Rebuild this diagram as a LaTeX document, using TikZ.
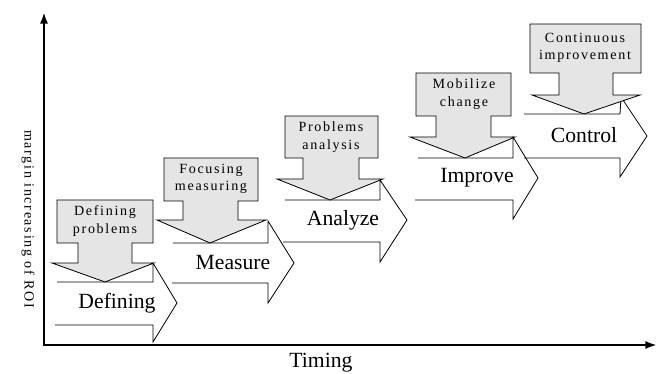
\documentclass[tikz,border=0pt]{standalone}
\usepackage{fontspec}
\setmainfont{Liberation Serif}
\newfontfamily\taskfont[LetterSpace=12]{Liberation Serif}
\usetikzlibrary{arrows.meta}

\begin{document}
\begin{tikzpicture}[x=0.03cm, y=-0.03cm,
	phase/.style={font=\fontsize{18.5}{20}\selectfont, inner sep=0},
	task/.style={font=\taskfont\fontsize{12}{15}\selectfont, align=center, inner sep=0},
	shaft/.style={line width=0.7pt, line join=miter},
	callout/.style={draw, fill=gray!20, line width=0.7pt},
	axis/.style={line width=2pt, line cap=rect, -{Latex[length=10pt,width=7pt]}}]
	\useasboundingbox (0,0) rectangle (660,374);
	% axes
	\coordinate (o) at (44,345);
	\coordinate (ytop) at (44,12);
	\coordinate (xend) at (657,345);
	\draw [axis] (o) -- (ytop);
	\draw [axis] (o) -- (xend);
	\node [task, rotate=-90] (roi) at (28,219) {margin increasing of ROI};
	\node [phase] (timing) at (321,363) {Timing};
	% step arrows
	\draw [shaft] (55,325) -- (153,325) -- (153,342) -- (177,303) -- (153,263) -- (153,282) -- (57,282);
	\draw [shaft] (172,283) -- (268,283) -- (268,303) -- (294,263) -- (268,221) -- (268,243) -- (173,243);
	\draw [shaft] (283,242) -- (380,242) -- (380,262) -- (407,220) -- (380,180) -- (380,200) -- (285,200);
	\draw [shaft] (415,200) -- (513,200) -- (513,219) -- (538,178) -- (513,137) -- (513,158) -- (418,158);
	\draw [shaft] (524,158) -- (620,158) -- (620,177) -- (647,136) -- (621,97) -- (620,114) -- (524,114);
	% callouts
	\draw [callout] (57,200) -- (153,200) -- (153,243) -- (132,243) -- (132,263) -- (154,263) -- (105,282) -- (52,263) -- (78,263) -- (78,243) -- (57,243) -- cycle;
	\draw [callout] (164,158) -- (258,158) -- (258,201) -- (238,201) -- (238,220) -- (266,220) -- (210,243) -- (157,220) -- (183,220) -- (183,201) -- (164,201) -- cycle;
	\draw [callout] (285,116) -- (378,116) -- (378,158) -- (359,158) -- (359,179) -- (383,179) -- (330,200) -- (277,179) -- (303,179) -- (303,158) -- (285,158) -- cycle;
	\draw [callout] (416,73) -- (511,73) -- (511,116) -- (491,116) -- (491,137) -- (515,137) -- (465,158) -- (410,137) -- (436,137) -- (436,116) -- (416,116) -- cycle;
	\draw [callout] (530,24) -- (641,24) -- (641,73) -- (613,73) -- (613,95) -- (640,95) -- (584,114) -- (532,95) -- (559,95) -- (559,73) -- (530,73) -- cycle;
	% labels
	\node [phase] (defining) at (117,303) {Defining};
	\node [phase] (measure) at (233,263) {Measure};
	\node [phase] (analyze) at (343,220) {Analyze};
	\node [phase] (improve) at (477,178) {Improve};
	\node [phase] (control) at (584,135) {Control};
	\node [task] (defprob) at (105,221) {Defining\\problems};
	\node [task] (focmeas) at (211,179) {Focusing\\measuring};
	\node [task] (probana) at (331,137) {Problems\\analysis};
	\node [task] (mobchg) at (464,94) {Mobilize\\change};
	\node [task] (contimp) at (585,48) {Continuous\\improvement};
\end{tikzpicture}
\end{document}
